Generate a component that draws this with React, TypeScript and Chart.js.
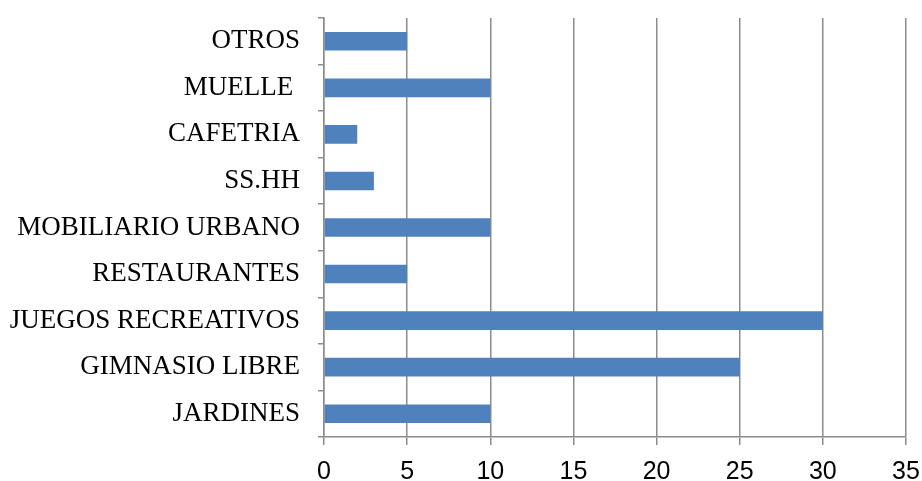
import React, { useEffect, useRef } from "react";
import { Chart, registerables } from "chart.js";

Chart.register(...registerables);

const categories = [
  "OTROS",
  "MUELLE ",
  "CAFETRIA",
  "SS.HH",
  "MOBILIARIO URBANO",
  "RESTAURANTES",
  "JUEGOS RECREATIVOS",
  "GIMNASIO LIBRE",
  "JARDINES",
];
const values = [5, 10, 2, 3, 10, 5, 30, 25, 10];
const xMin = 0;
const xMax = 35;
const xStep = 5;

export default function App() {
  const ref = useRef<HTMLCanvasElement | null>(null);
  useEffect(() => {
    if (!ref.current) return;
    const gray = "#8c8c8c";
    const chart = new Chart(ref.current, {
      type: "bar",
      data: {
        labels: categories,
        datasets: [
          {
            data: values,
            backgroundColor: "#4F81BD",
            borderWidth: 0,
            categoryPercentage: 1,
            barPercentage: 0.4,
          },
        ],
      },
      options: {
        indexAxis: "y",
        animation: false,
        responsive: false,
        maintainAspectRatio: false,
        layout: { padding: { top: 18, left: 0, right: 16, bottom: 0 } },
        plugins: { legend: { display: false }, tooltip: { enabled: false } },
        scales: {
          x: {
            min: xMin,
            max: xMax,
            afterFit: (scale: any) => {
              scale.height = 44;
              scale.paddingLeft = 0;
              scale.paddingRight = 0;
            },
            ticks: {
              stepSize: xStep,
              color: "#000",
              font: { family: "'Liberation Sans', Arial, sans-serif", size: 25 },
              padding: 12,
            },
            grid: {
              color: gray,
              lineWidth: 1.5,
              drawOnChartArea: true,
              drawTicks: true,
              tickLength: 8,
            },
            border: { display: true, color: gray, width: 1.5 },
          },
          y: {
            afterFit: (scale: any) => {
              scale.width = 324;
              scale.paddingTop = 0;
              scale.paddingBottom = 0;
            },
            ticks: {
              color: "#000",
              font: { family: "'Liberation Serif', 'Times New Roman', serif", size: 27 },
              padding: 18,
            },
            grid: {
              offset: true,
              color: gray,
              lineWidth: 1.5,
              drawOnChartArea: false,
              drawTicks: true,
              tickLength: 6,
            },
            border: { display: true, color: gray, width: 1.5 },
          },
        },
      },
    });
    return () => chart.destroy();
  }, []);
  return (
    <div style={{ position: "fixed", left: 0, top: 0, width: 922, height: 481, background: "#fff" }}>
      <canvas ref={ref} width={922} height={481} style={{ width: 922, height: 481 }} />
    </div>
  );
}
